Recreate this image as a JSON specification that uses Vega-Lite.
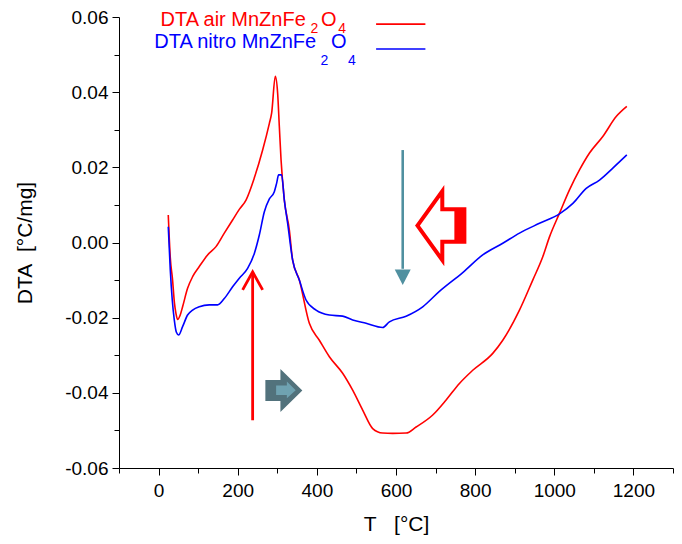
{
  "$schema": "https://vega.github.io/schema/vega-lite/v6.json",
  "width": 554,
  "height": 451,
  "autosize": "none",
  "padding": {"left": 119, "top": 17, "right": 9, "bottom": 76},
  "background": "white",
  "config": {
    "view": {"stroke": null},
    "font": "Liberation Sans",
    "axis": {
      "grid": false,
      "domainColor": "black",
      "domainWidth": 1,
      "tickColor": "black",
      "tickWidth": 1,
      "labelColor": "black",
      "titleColor": "black",
      "labelFont": "Liberation Sans",
      "titleFont": "Liberation Sans",
      "labelFontSize": 19,
      "titleFontSize": 21,
      "titleFontWeight": "normal",
      "labelFlush": false,
      "labelOverlap": false
    }
  },
  "datasets": {
    "curves": [
      {"T": 24.5, "DTA": 0.0073, "series": "air"},
      {"T": 29.6, "DTA": -0.004, "series": "air"},
      {"T": 35.4, "DTA": -0.01, "series": "air"},
      {"T": 40, "DTA": -0.016, "series": "air"},
      {"T": 44, "DTA": -0.0189, "series": "air"},
      {"T": 48, "DTA": -0.0205, "series": "air"},
      {"T": 54, "DTA": -0.0195, "series": "air"},
      {"T": 60.7, "DTA": -0.0171, "series": "air"},
      {"T": 73.3, "DTA": -0.0122, "series": "air"},
      {"T": 86, "DTA": -0.0091, "series": "air"},
      {"T": 102.9, "DTA": -0.0064, "series": "air"},
      {"T": 123.9, "DTA": -0.0033, "series": "air"},
      {"T": 145.1, "DTA": -0.0011, "series": "air"},
      {"T": 166.1, "DTA": 0.0025, "series": "air"},
      {"T": 187.1, "DTA": 0.006, "series": "air"},
      {"T": 204, "DTA": 0.0088, "series": "air"},
      {"T": 221, "DTA": 0.0113, "series": "air"},
      {"T": 242, "DTA": 0.0172, "series": "air"},
      {"T": 263, "DTA": 0.0246, "series": "air"},
      {"T": 280, "DTA": 0.0317, "series": "air"},
      {"T": 285.7, "DTA": 0.0344, "series": "air"},
      {"T": 295, "DTA": 0.0442, "series": "air"},
      {"T": 300.9, "DTA": 0.0397, "series": "air"},
      {"T": 305.2, "DTA": 0.0308, "series": "air"},
      {"T": 309.5, "DTA": 0.022, "series": "air"},
      {"T": 317.8, "DTA": 0.0113, "series": "air"},
      {"T": 330.5, "DTA": 0.0033, "series": "air"},
      {"T": 338.8, "DTA": -0.0047, "series": "air"},
      {"T": 355.7, "DTA": -0.01, "series": "air"},
      {"T": 381, "DTA": -0.0215, "series": "air"},
      {"T": 406.3, "DTA": -0.026, "series": "air"},
      {"T": 431.6, "DTA": -0.0304, "series": "air"},
      {"T": 465.2, "DTA": -0.0348, "series": "air"},
      {"T": 490.5, "DTA": -0.0393, "series": "air"},
      {"T": 515.8, "DTA": -0.0446, "series": "air"},
      {"T": 541.1, "DTA": -0.0495, "series": "air"},
      {"T": 566.4, "DTA": -0.0507, "series": "air"},
      {"T": 591.7, "DTA": -0.0508, "series": "air"},
      {"T": 625.5, "DTA": -0.0507, "series": "air"},
      {"T": 650.8, "DTA": -0.0491, "series": "air"},
      {"T": 692.8, "DTA": -0.0459, "series": "air"},
      {"T": 726.7, "DTA": -0.0419, "series": "air"},
      {"T": 760.3, "DTA": -0.0375, "series": "air"},
      {"T": 793.9, "DTA": -0.034, "series": "air"},
      {"T": 844.5, "DTA": -0.0295, "series": "air"},
      {"T": 869.8, "DTA": -0.026, "series": "air"},
      {"T": 912, "DTA": -0.018, "series": "air"},
      {"T": 945.6, "DTA": -0.01, "series": "air"},
      {"T": 970.9, "DTA": -0.0038, "series": "air"},
      {"T": 987.9, "DTA": 0.0015, "series": "air"},
      {"T": 1013.2, "DTA": 0.0078, "series": "air"},
      {"T": 1038.4, "DTA": 0.014, "series": "air"},
      {"T": 1063.7, "DTA": 0.0193, "series": "air"},
      {"T": 1089, "DTA": 0.0238, "series": "air"},
      {"T": 1122.6, "DTA": 0.0282, "series": "air"},
      {"T": 1156.5, "DTA": 0.0335, "series": "air"},
      {"T": 1183.3, "DTA": 0.0362, "series": "air"},
      {"T": 24.5, "DTA": 0.0042, "series": "nitro"},
      {"T": 29.6, "DTA": -0.0073, "series": "nitro"},
      {"T": 34.6, "DTA": -0.0153, "series": "nitro"},
      {"T": 39.7, "DTA": -0.0206, "series": "nitro"},
      {"T": 44.8, "DTA": -0.0238, "series": "nitro"},
      {"T": 50.6, "DTA": -0.0246, "series": "nitro"},
      {"T": 60.7, "DTA": -0.0224, "series": "nitro"},
      {"T": 73.3, "DTA": -0.0193, "series": "nitro"},
      {"T": 86, "DTA": -0.018, "series": "nitro"},
      {"T": 102.9, "DTA": -0.0171, "series": "nitro"},
      {"T": 128.2, "DTA": -0.0166, "series": "nitro"},
      {"T": 149.2, "DTA": -0.0166, "series": "nitro"},
      {"T": 166.1, "DTA": -0.0149, "series": "nitro"},
      {"T": 187.1, "DTA": -0.0118, "series": "nitro"},
      {"T": 204, "DTA": -0.0095, "series": "nitro"},
      {"T": 225, "DTA": -0.0069, "series": "nitro"},
      {"T": 242, "DTA": -0.0029, "series": "nitro"},
      {"T": 254.6, "DTA": 0.002, "series": "nitro"},
      {"T": 267.3, "DTA": 0.0082, "series": "nitro"},
      {"T": 280, "DTA": 0.0116, "series": "nitro"},
      {"T": 292.5, "DTA": 0.0135, "series": "nitro"},
      {"T": 298.4, "DTA": 0.0158, "series": "nitro"},
      {"T": 303.4, "DTA": 0.018, "series": "nitro"},
      {"T": 311, "DTA": 0.018, "series": "nitro"},
      {"T": 317.8, "DTA": 0.0113, "series": "nitro"},
      {"T": 326.2, "DTA": 0.0051, "series": "nitro"},
      {"T": 338.8, "DTA": -0.0047, "series": "nitro"},
      {"T": 355.7, "DTA": -0.01, "series": "nitro"},
      {"T": 372.7, "DTA": -0.0153, "series": "nitro"},
      {"T": 398, "DTA": -0.018, "series": "nitro"},
      {"T": 431.6, "DTA": -0.0193, "series": "nitro"},
      {"T": 465.2, "DTA": -0.0196, "series": "nitro"},
      {"T": 490.5, "DTA": -0.0206, "series": "nitro"},
      {"T": 524.4, "DTA": -0.0215, "series": "nitro"},
      {"T": 566.4, "DTA": -0.0226, "series": "nitro"},
      {"T": 583.3, "DTA": -0.0211, "series": "nitro"},
      {"T": 625.5, "DTA": -0.0196, "series": "nitro"},
      {"T": 667.5, "DTA": -0.0171, "series": "nitro"},
      {"T": 709.7, "DTA": -0.013, "series": "nitro"},
      {"T": 768.6, "DTA": -0.008, "series": "nitro"},
      {"T": 819.2, "DTA": -0.0033, "series": "nitro"},
      {"T": 869.8, "DTA": -0.0002, "series": "nitro"},
      {"T": 912.1, "DTA": 0.0025, "series": "nitro"},
      {"T": 962.6, "DTA": 0.0051, "series": "nitro"},
      {"T": 1013.2, "DTA": 0.0076, "series": "nitro"},
      {"T": 1047, "DTA": 0.0104, "series": "nitro"},
      {"T": 1080.7, "DTA": 0.0144, "series": "nitro"},
      {"T": 1114.3, "DTA": 0.0166, "series": "nitro"},
      {"T": 1148, "DTA": 0.0198, "series": "nitro"},
      {"T": 1183.3, "DTA": 0.0233, "series": "nitro"}
    ],
    "legendLines": [
      {"T": 549.7, "DTA": 0.0581, "series": "air"},
      {"T": 674.3, "DTA": 0.0581, "series": "air"},
      {"T": 549.7, "DTA": 0.0515, "series": "nitro"},
      {"T": 674.3, "DTA": 0.0515, "series": "nitro"}
    ],
    "legendText": [
      {"T": 5, "DTA": 0.0577, "series": "air", "role": "main", "label": "DTA air MnZnFe"},
      {"T": 384, "DTA": 0.05574, "series": "air", "role": "sub", "label": "2"},
      {"T": 410.5, "DTA": 0.0577, "series": "air", "role": "main", "label": "O"},
      {"T": 454, "DTA": 0.05574, "series": "air", "role": "sub", "label": "4"},
      {"T": -11, "DTA": 0.05167, "series": "nitro", "role": "main", "label": "DTA nitro MnZnFe"},
      {"T": 409.2, "DTA": 0.04723, "series": "nitro", "role": "sub", "label": "2"},
      {"T": 435.8, "DTA": 0.05167, "series": "nitro", "role": "main", "label": "O"},
      {"T": 478.7, "DTA": 0.04723, "series": "nitro", "role": "sub", "label": "4"}
    ],
    "redArrow": [{"T": 237.7, "DTA": -0.0473, "DTA2": -0.0082}],
    "redHead": [{"T": 237.7, "DTA": -0.0102}],
    "tealArrow": [{"T": 617, "DTA": 0.0246, "DTA2": -0.007}],
    "tealHead": [{"T": 617, "DTA": -0.0092}],
    "redBlock": [{"T": 713.5, "DTA": 0.0045}],
    "tealBlock": [{"T": 316.6, "DTA": -0.0394}]
  },
  "encoding": {
    "x": {
      "field": "T",
      "type": "quantitative",
      "scale": {"domain": [-100, 1300], "nice": false, "zero": false},
      "axis": {
        "title": "T\u00a0\u00a0\u00a0[°C]",
        "values": [-100, 0, 100, 200, 300, 400, 500, 600, 700, 800, 900, 1000, 1100, 1200, 1300],
        "format": "d",
        "labelExpr": "datum.value % 200 == 0 && datum.value >= 0 && datum.value <= 1200 ? datum.label : ''",
        "tickSize": {"condition": {"test": "datum.value % 200 == 0", "value": 7}, "value": 5},
        "labelPadding": 6,
        "titlePadding": 13
      }
    },
    "y": {
      "field": "DTA",
      "type": "quantitative",
      "scale": {"domain": [-0.06, 0.06], "nice": false, "zero": false},
      "axis": {
        "title": "DTA\u00a0\u00a0[°C/mg]",
        "values": [-0.06, -0.05, -0.04, -0.03, -0.02, -0.01, 0, 0.01, 0.02, 0.03, 0.04, 0.05, 0.06],
        "labelExpr": "round(datum.value * 100) % 2 == 0 ? replace(format(datum.value, '.2f'), '−', '-') : ''",
        "tickSize": {"condition": {"test": "round(datum.value * 100) % 2 == 0", "value": 7}, "value": 5},
        "labelPadding": 4,
        "titlePadding": 29
      }
    }
  },
  "layer": [
    {
      "data": {"name": "curves"},
      "mark": {"type": "line", "strokeWidth": 1.6, "interpolate": "monotone"},
      "encoding": {
        "color": {
          "field": "series",
          "type": "nominal",
          "scale": {"domain": ["air", "nitro"], "range": ["#ff0000", "#0000ff"]},
          "legend": null
        }
      }
    },
    {
      "data": {"name": "legendLines"},
      "mark": {"type": "line", "strokeWidth": 1.6},
      "encoding": {
        "color": {"field": "series", "type": "nominal", "legend": null}
      }
    },
    {
      "data": {"name": "legendText"},
      "mark": {"type": "text", "align": "left", "baseline": "alphabetic", "font": "Liberation Sans"},
      "encoding": {
        "text": {"field": "label"},
        "size": {"field": "role", "type": "nominal", "scale": {"domain": ["main", "sub"], "range": [20, 14]}, "legend": null},
        "color": {"field": "series", "type": "nominal", "legend": null}
      }
    },
    {
      "data": {"name": "redArrow"},
      "mark": {"type": "rule", "color": "#ff0000", "strokeWidth": 2.8},
      "encoding": {"y2": {"field": "DTA2"}}
    },
    {
      "data": {"name": "redHead"},
      "mark": {"type": "point", "shape": "M -1 0.9 L 0 -0.9 L 1 0.9", "size": 400, "filled": false, "stroke": "#ff0000", "strokeWidth": 2.8, "opacity": 1}
    },
    {
      "data": {"name": "tealArrow"},
      "mark": {"type": "rule", "color": "#5090a0", "strokeWidth": 2.6},
      "encoding": {"y2": {"field": "DTA2"}}
    },
    {
      "data": {"name": "tealHead"},
      "mark": {"type": "point", "shape": "M -1 -0.95 L 1 -0.95 L 0 1 Z", "size": 256, "filled": true, "fill": "#5090a0", "strokeWidth": 0, "opacity": 1}
    },
    {
      "data": {"name": "redBlock"},
      "mark": {"type": "point", "shape": "M -0.68 0 L 0.04 -1 L 0.04 -0.47 L 0.68 -0.47 L 0.68 0.47 L 0.04 0.47 L 0.04 1 Z", "size": 4761, "filled": true, "fill": "white", "stroke": "#ff0000", "strokeWidth": 4, "strokeJoin": "miter", "opacity": 1}
    },
    {
      "data": {"name": "redBlock"},
      "mark": {"type": "point", "shape": "M 0.39 -0.47 L 0.68 -0.47 L 0.68 0.47 L 0.39 0.47 Z", "size": 4761, "filled": true, "fill": "#ff0000", "strokeWidth": 0, "opacity": 1}
    },
    {
      "data": {"name": "tealBlock"},
      "mark": {"type": "point", "shape": "M -0.86 -0.49 L -0.16 -0.49 L -0.16 -1 L 0.86 0 L -0.16 1 L -0.16 0.49 L -0.86 0.49 Z", "size": 1849, "filled": true, "fill": "#52727c", "strokeWidth": 0, "opacity": 1}
    },
    {
      "data": {"name": "tealBlock"},
      "mark": {"type": "point", "shape": "M -0.36 -0.24 L 0.14 -0.24 L 0.14 -0.42 L 0.55 -0.02 L 0.14 0.36 L 0.14 0.2 L -0.36 0.2 Z", "size": 1849, "filled": true, "fill": "#6fa2b1", "strokeWidth": 0, "opacity": 1}
    }
  ]
}
